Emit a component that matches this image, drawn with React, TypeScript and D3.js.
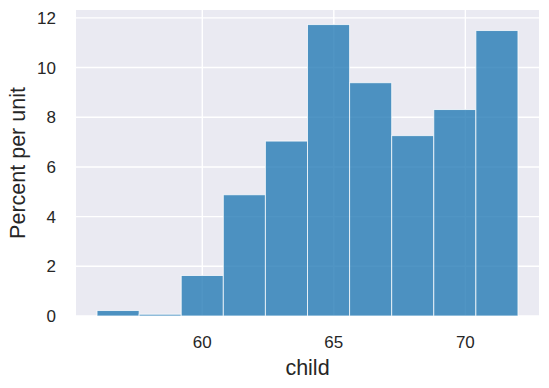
import React, { useEffect, useRef } from "react";
import * as d3 from "d3";

// histogram of child heights (percent per unit)
const binEdges = [56.0, 57.6, 59.2, 60.8, 62.4, 64.0, 65.6, 67.2, 68.8, 70.4, 72.0];
const percents = [0.22, 0.07, 1.63, 4.88, 7.04, 11.73, 9.39, 7.26, 8.31, 11.49];
const xTicks = [60, 65, 70];
const yTicks = [0, 2, 4, 6, 8, 10, 12];
const xLabel = "child";
const yLabel = "Percent per unit";

const App = () => {
  const svgRef = useRef<SVGSVGElement>(null);

  useEffect(() => {
    const width = 549;
    const height = 388;
    const margin = { top: 10, right: 10, bottom: 72, left: 76 };
    const font = "'Liberation Sans', Arial, sans-serif";
    const textColor = "#262626";

    const svg = d3.select(svgRef.current);
    svg.selectAll("*").remove();
    svg.attr("width", width).attr("height", height);

    const bins = percents.map((v, i) => ({ x0: binEdges[i], x1: binEdges[i + 1], v }));

    // matplotlib style 5% margins
    const lo = binEdges[0];
    const hi = binEdges[binEdges.length - 1];
    const pad = (hi - lo) * 0.05;
    const x = d3
      .scaleLinear()
      .domain([lo - pad, hi + pad])
      .range([margin.left, width - margin.right]);

    const yMax = d3.max(percents)! * 1.05;
    const y = d3
      .scaleLinear()
      .domain([0, yMax])
      .range([height - margin.bottom, margin.top]);

    // background
    svg
      .append("rect")
      .attr("x", margin.left)
      .attr("y", margin.top)
      .attr("width", width - margin.left - margin.right)
      .attr("height", height - margin.top - margin.bottom)
      .attr("fill", "#EAEAF2");

    // grid
    svg
      .append("g")
      .selectAll("line")
      .data(yTicks)
      .enter()
      .append("line")
      .attr("x1", margin.left)
      .attr("x2", width - margin.right)
      .attr("y1", (d) => y(d))
      .attr("y2", (d) => y(d))
      .attr("stroke", "#fff")
      .attr("stroke-width", 1.4);

    svg
      .append("g")
      .selectAll("line")
      .data(xTicks)
      .enter()
      .append("line")
      .attr("x1", (d) => x(d))
      .attr("x2", (d) => x(d))
      .attr("y1", margin.top)
      .attr("y2", height - margin.bottom)
      .attr("stroke", "#fff")
      .attr("stroke-width", 1.4);

    // bars
    svg
      .append("g")
      .selectAll("rect")
      .data(bins)
      .enter()
      .append("rect")
      .attr("x", (d) => x(d.x0))
      .attr("y", (d) => y(d.v))
      .attr("width", (d) => x(d.x1) - x(d.x0))
      .attr("height", (d) => y(0) - y(d.v))
      .attr("fill", "#1f77b4")
      .attr("fill-opacity", 0.78)
      .attr("stroke", "#fff")
      .attr("stroke-opacity", 0.75)
      .attr("stroke-width", 1);

    // tick labels
    svg
      .append("g")
      .selectAll("text")
      .data(xTicks)
      .enter()
      .append("text")
      .attr("x", (d) => x(d))
      .attr("y", height - margin.bottom + 32)
      .attr("text-anchor", "middle")
      .attr("font-family", font)
      .attr("font-size", 17)
      .attr("fill", textColor)
      .text((d) => d);

    svg
      .append("g")
      .selectAll("text")
      .data(yTicks)
      .enter()
      .append("text")
      .attr("x", margin.left - 20)
      .attr("y", (d) => y(d))
      .attr("dy", "0.36em")
      .attr("text-anchor", "end")
      .attr("font-family", font)
      .attr("font-size", 17)
      .attr("fill", textColor)
      .text((d) => d);

    // axis labels
    svg
      .append("text")
      .attr("x", (margin.left + width - margin.right) / 2)
      .attr("y", height - 13)
      .attr("text-anchor", "middle")
      .attr("font-family", font)
      .attr("font-size", 21.5)
      .attr("fill", textColor)
      .text(xLabel);

    svg
      .append("text")
      .attr("transform", `translate(25, ${(margin.top + height - margin.bottom) / 2}) rotate(-90)`)
      .attr("text-anchor", "middle")
      .attr("font-family", font)
      .attr("font-size", 21.5)
      .attr("fill", textColor)
      .text(yLabel);
  }, []);

  return (
    <div style={{ position: "absolute", left: 0, top: 0 }}>
      <svg ref={svgRef} style={{ display: "block", background: "#fff" }} />
    </div>
  );
};

export default App;
